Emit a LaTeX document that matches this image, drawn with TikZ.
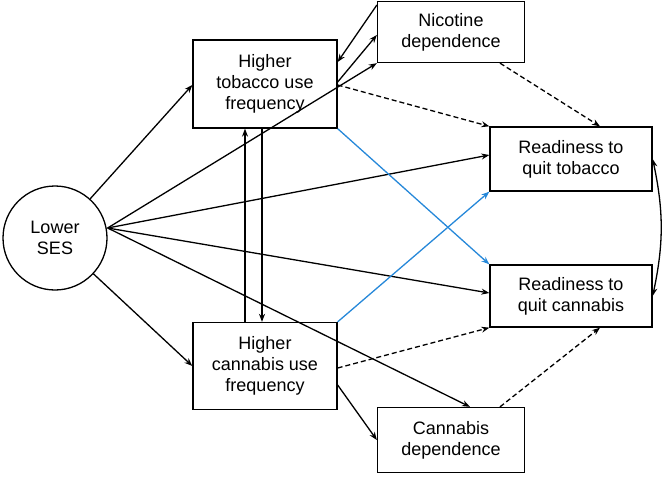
\documentclass[tikz,border=0pt]{standalone}
\usepackage{fontspec}
\setmainfont{Liberation Sans}
\usetikzlibrary{arrows.meta}
\tikzset{
  box/.style={draw, line width=1.3pt, align=center, font=\fontsize{18}{21}\selectfont, inner sep=0pt},
  arr/.style={-{Stealth[length=8pt,width=6pt]}, line width=1.3pt},
  darr/.style={arr, dash pattern=on 5pt off 3pt},
  barr/.style={arr, color=blue!45!cyan!70!gray}
}
\begin{document}
\begin{tikzpicture}[x=1pt,y=-1pt]
  \useasboundingbox (0,0) rectangle (663,476);
  % nodes
  \node[box, circle, minimum size=104pt] (ses) at (55,238) {Lower\\SES};
  \node[box, minimum width=144pt, minimum height=88pt] (tob) at (265,84) {Higher\\tobacco use\\frequency};
  \node[box, minimum width=144pt, minimum height=87pt] (can) at (265,366) {Higher\\cannabis use\\frequency};
  \node[box, minimum width=147pt, minimum height=61pt] (nic) at (451,32) {Nicotine\\dependence};
  \node[box, minimum width=147pt, minimum height=65pt] (cdep) at (451,440) {Cannabis\\dependence};
  \node[box, minimum width=162pt, minimum height=64pt] (rqt) at (571,159) {Readiness to\\quit tobacco};
  \node[box, minimum width=162pt, minimum height=62pt] (rqc) at (571,296) {Readiness to\\quit cannabis};
  % paths from SES
  \draw[arr] (ses) -- (tob.south west |- 0,85);
  \draw[arr] (ses) -- (can.west |- 0,366);
  \draw[arr] (ses.east |- 0,228) -- (nic.south west);
  \draw[arr] (ses.east |- 0,228) -- (rqt.west |- 0,155);
  \draw[arr] (ses.east |- 0,228) -- (rqc.west |- 0,293);
  \draw[arr] (ses.east |- 0,228) -- (cdep.north west -| 470,0);
  % tobacco <-> nicotine
  \draw[arr] (tob.east |- 0,82) -- (nic.west |- 0,35);
  \draw[arr] (nic.west |- 0,5) -- (tob.east |- 0,62);
  \draw[darr] (tob.east |- 0,85) -- (rqt.north west);
  \draw[darr] (nic.south -| 500,0) -- (rqt.north -| 600,0);
  \draw[barr] (tob.south east) -- (rqc.north west);
  \draw[barr] (can.north east) -- (rqt.south west);
  % tobacco <-> cannabis
  \draw[arr] (can.north -| 245,0) -- (tob.south -| 245,0);
  \draw[arr] (tob.south -| 262,0) -- (can.north -| 262,0);
  % cannabis
  \draw[darr] (can.east |- 0,368) -- (rqc.south west);
  \draw[arr] (can.east |- 0,385) -- (cdep.west |- 0,440);
  \draw[darr] (cdep.north -| 500,0) -- (rqc.south -| 600,0);
  % readiness correlation
  \draw[{Stealth[length=8pt,width=6pt]}-{Stealth[length=8pt,width=6pt]}, line width=1.3pt] (rqt.east) to[bend left=12] (rqc.east);
\end{tikzpicture}
\end{document}
